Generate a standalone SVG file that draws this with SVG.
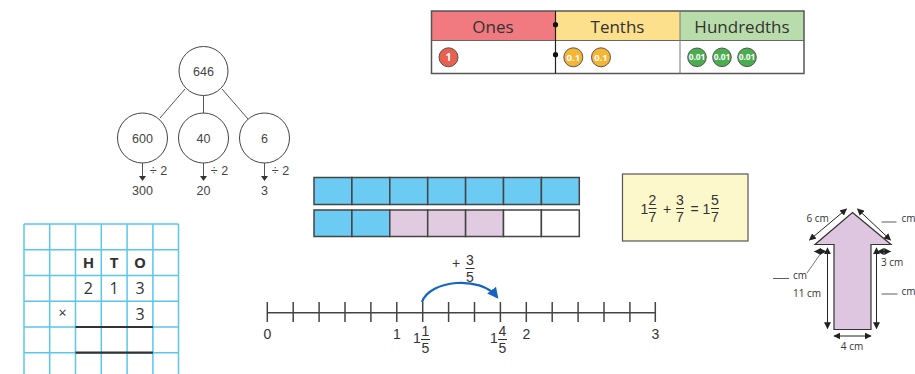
<svg xmlns="http://www.w3.org/2000/svg" width="915" height="374" viewBox="0 0 915 374">
<defs>
<style>
.os{font-family:"Open Sans","Liberation Sans",sans-serif;fill:#333}
.ls{font-family:"Liberation Sans",Arial,sans-serif;fill:#333}
.tree circle{fill:#fff;stroke:#444;stroke-width:1}
.tree text{font-family:"Liberation Sans",Arial,sans-serif;font-size:12.5px;fill:#444;text-anchor:middle}
.grid line{stroke:#5ac6ef;stroke-width:1.5}
.cell{stroke:#444;stroke-width:1.5}
.dim{stroke:#222;stroke-width:1;fill:none;marker-start:url(#ah);marker-end:url(#ah)}
.cnt{stroke:#555;stroke-width:1}
.ctext{font-family:"Open Sans","Liberation Sans",sans-serif;font-weight:bold;fill:#fff;text-anchor:middle}
</style>
<marker id="ah" viewBox="0 0 10 10" refX="9" refY="5" markerWidth="7" markerHeight="7" orient="auto-start-reverse" markerUnits="userSpaceOnUse">
<path d="M0,0 L10,5 L0,10 z" fill="#222"/>
</marker>
<marker id="blueah" viewBox="0 0 10 10" refX="8" refY="5" markerWidth="11" markerHeight="11" orient="auto" markerUnits="userSpaceOnUse">
<path d="M0,0 L10,5 L0,10 z" fill="#1565c0"/>
</marker>
</defs>

<!-- Place value chart -->
<g id="place-value-chart">
<rect x="431.5" y="11" width="124" height="29.5" fill="#f07a7f"/>
<rect x="555.5" y="11" width="124.5" height="29.5" fill="#fde08c"/>
<rect x="680" y="11" width="124" height="29.5" fill="#b9dcab"/>
<rect x="431.5" y="40.5" width="372.5" height="33" fill="#fff"/>
<rect x="431.5" y="11" width="372.5" height="62.5" fill="none" stroke="#555" stroke-width="1.5"/>
<line x1="431.5" y1="40.5" x2="804" y2="40.5" stroke="#666" stroke-width="1"/>
<line x1="680" y1="11" x2="680" y2="73.5" stroke="#777" stroke-width="1"/>
<line x1="555.5" y1="11" x2="555.5" y2="73.5" stroke="#222" stroke-width="1.2"/>
<circle cx="555.5" cy="24.7" r="2.6" fill="#111"/>
<circle cx="555.5" cy="54.7" r="2.6" fill="#111"/>
<text class="os" x="493" y="33" font-size="17" text-anchor="middle">Ones</text>
<text class="os" x="617.5" y="33" font-size="17" text-anchor="middle">Tenths</text>
<text class="os" x="742" y="33" font-size="17" text-anchor="middle">Hundredths</text>
<circle class="cnt" cx="448.5" cy="57.3" r="9.5" fill="#e9604f"/>
<text class="ctext" x="448.5" y="61" font-size="10.5">1</text>
<circle class="cnt" cx="573.3" cy="57.3" r="9.5" fill="#f6b532"/>
<text class="ctext" x="573.3" y="60.8" font-size="9.5">0.1</text>
<circle class="cnt" cx="601" cy="57.3" r="9.5" fill="#f6b532"/>
<text class="ctext" x="601" y="60.8" font-size="9.5">0.1</text>
<circle class="cnt" cx="697" cy="57.3" r="9.3" fill="#4aad4e"/>
<text class="ctext" x="697" y="60.3" font-size="8.3">0.01</text>
<circle class="cnt" cx="722" cy="57.3" r="9.3" fill="#4aad4e"/>
<text class="ctext" x="722" y="60.3" font-size="8.3">0.01</text>
<circle class="cnt" cx="747" cy="57.3" r="9.3" fill="#4aad4e"/>
<text class="ctext" x="747" y="60.3" font-size="8.3">0.01</text>
</g>

<!-- Part-whole tree -->
<g class="tree">
<g id="tree-connectors" stroke="#555" stroke-width="1">
<line x1="185" y1="89" x2="160" y2="118"/>
<line x1="203.5" y1="95.5" x2="203.5" y2="113"/>
<line x1="222" y1="89" x2="248" y2="119"/>
<line x1="142.5" y1="163" x2="142.5" y2="177"/>
<line x1="203.5" y1="163" x2="203.5" y2="177"/>
<line x1="264.5" y1="163" x2="264.5" y2="177"/>
</g>
<g id="tree-arrowheads" fill="#333">
<path d="M139,176 L146,176 L142.5,181 z"/>
<path d="M200,176 L207,176 L203.5,181 z"/>
<path d="M261,176 L268,176 L264.5,181 z"/>
</g>
<g id="node-646"><circle cx="203.5" cy="71" r="24.5"/><text x="203.5" y="75.5">646</text></g>
<g id="node-600"><circle cx="142.5" cy="138" r="25"/><text x="142.5" y="142.5">600</text></g>
<g id="node-40"><circle cx="203.5" cy="138" r="25"/><text x="203.5" y="142.5">40</text></g>
<g id="node-6"><circle cx="264.5" cy="138" r="25"/><text x="264.5" y="142.5">6</text></g>
<text x="158.5" y="174.5" font-size="11.5">÷ 2</text>
<text x="219.5" y="174.5" font-size="11.5">÷ 2</text>
<text x="280.5" y="174.5" font-size="11.5">÷ 2</text>
<text x="142.5" y="195">300</text>
<text x="203.5" y="195">20</text>
<text x="264.5" y="195">3</text>
</g>

<!-- HTO grid -->
<g id="hto-grid">
<g class="grid">
<line x1="24" y1="224" x2="24" y2="374"/>
<line x1="49.7" y1="224" x2="49.7" y2="374"/>
<line x1="75.5" y1="224" x2="75.5" y2="374"/>
<line x1="101.3" y1="224" x2="101.3" y2="374"/>
<line x1="127.1" y1="224" x2="127.1" y2="374"/>
<line x1="152.9" y1="224" x2="152.9" y2="374"/>
<line x1="178.5" y1="224" x2="178.5" y2="374"/>
<line x1="24" y1="224" x2="178.5" y2="224"/>
<line x1="24" y1="249.7" x2="178.5" y2="249.7"/>
<line x1="24" y1="275.4" x2="178.5" y2="275.4"/>
<line x1="24" y1="301.2" x2="178.5" y2="301.2"/>
<line x1="24" y1="327" x2="178.5" y2="327"/>
<line x1="24" y1="352.7" x2="178.5" y2="352.7"/>
</g>
<line x1="75.5" y1="327" x2="152.9" y2="327" stroke="#333" stroke-width="2.2"/>
<line x1="75.5" y1="352.7" x2="152.9" y2="352.7" stroke="#333" stroke-width="2.2"/>
<g class="os" text-anchor="middle">
<text x="88.4" y="268" font-size="15" font-weight="bold">H</text>
<text x="114.2" y="268" font-size="15" font-weight="bold">T</text>
<text x="140" y="268" font-size="15" font-weight="bold">O</text>
<text x="88.4" y="294" font-size="16">2</text>
<text x="114.2" y="294" font-size="16">1</text>
<text x="140" y="294" font-size="16">3</text>
<text x="62.6" y="318" font-size="14">×</text>
<text x="140" y="320" font-size="16">3</text>
</g>
</g>

<!-- Bar model -->
<g id="bar-model">
<g class="cell">
<rect x="314" y="177.5" width="37.9" height="27" fill="#6ccbf2"/>
<rect x="351.9" y="177.5" width="37.9" height="27" fill="#6ccbf2"/>
<rect x="389.8" y="177.5" width="37.9" height="27" fill="#6ccbf2"/>
<rect x="427.7" y="177.5" width="37.9" height="27" fill="#6ccbf2"/>
<rect x="465.6" y="177.5" width="37.9" height="27" fill="#6ccbf2"/>
<rect x="503.5" y="177.5" width="37.9" height="27" fill="#6ccbf2"/>
<rect x="541.4" y="177.5" width="37.9" height="27" fill="#6ccbf2"/>
<rect x="314" y="210" width="37.9" height="26.5" fill="#6ccbf2"/>
<rect x="351.9" y="210" width="37.9" height="26.5" fill="#6ccbf2"/>
<rect x="389.8" y="210" width="37.9" height="26.5" fill="#e0cbe0"/>
<rect x="427.7" y="210" width="37.9" height="26.5" fill="#e0cbe0"/>
<rect x="465.6" y="210" width="37.9" height="26.5" fill="#e0cbe0"/>
<rect x="503.5" y="210" width="37.9" height="26.5" fill="#fff"/>
<rect x="541.4" y="210" width="37.9" height="26.5" fill="#fff"/>
</g>
</g>

<!-- Fraction equation box -->
<g id="equation-box">
<rect x="622.5" y="174" width="125.5" height="67" fill="#fdf8cc" stroke="#555" stroke-width="1.2"/>
<g class="ls" font-size="14" text-anchor="middle">
<text x="644.5" y="213.5">1</text>
<text x="652.5" y="205">2</text>
<line x1="648.5" y1="208.5" x2="656.5" y2="208.5" stroke="#333" stroke-width="1"/>
<text x="652.5" y="222">7</text>
<text x="667" y="213.5">+</text>
<text x="680" y="205">3</text>
<line x1="676" y1="208.5" x2="684" y2="208.5" stroke="#333" stroke-width="1"/>
<text x="680" y="222">7</text>
<text x="694.5" y="213.5">=</text>
<text x="706.5" y="213.5">1</text>
<text x="715" y="205">5</text>
<line x1="711" y1="208.5" x2="719" y2="208.5" stroke="#333" stroke-width="1"/>
<text x="715" y="222">7</text>
</g>
</g>

<!-- Number line -->
<g id="number-line">
<g stroke="#444" stroke-width="1.5">
<line x1="267" y1="312.7" x2="656" y2="312.7"/>
<line x1="267.3" y1="302" x2="267.3" y2="322"/>
<line x1="293.2" y1="302" x2="293.2" y2="322"/>
<line x1="319.1" y1="302" x2="319.1" y2="322"/>
<line x1="345" y1="302" x2="345" y2="322"/>
<line x1="370.9" y1="302" x2="370.9" y2="322"/>
<line x1="396.8" y1="302" x2="396.8" y2="322"/>
<line x1="422.7" y1="302" x2="422.7" y2="322"/>
<line x1="448.6" y1="302" x2="448.6" y2="322"/>
<line x1="474.5" y1="302" x2="474.5" y2="322"/>
<line x1="500.4" y1="302" x2="500.4" y2="322"/>
<line x1="526.3" y1="302" x2="526.3" y2="322"/>
<line x1="552.2" y1="302" x2="552.2" y2="322"/>
<line x1="578.1" y1="302" x2="578.1" y2="322"/>
<line x1="604" y1="302" x2="604" y2="322"/>
<line x1="629.9" y1="302" x2="629.9" y2="322"/>
<line x1="655.3" y1="302" x2="655.3" y2="322"/>
</g>
<g class="ls" font-size="14" text-anchor="middle">
<text x="267.3" y="338.5">0</text>
<text x="396.8" y="338.5">1</text>
<text x="526.3" y="338.5">2</text>
<text x="655.3" y="338.5">3</text>
<text x="417" y="342.5">1</text>
<text x="425.5" y="335.5">1</text>
<line x1="421" y1="339.5" x2="430" y2="339.5" stroke="#333" stroke-width="1"/>
<text x="425.5" y="352.5">5</text>
<text x="494" y="342.5">1</text>
<text x="502.5" y="335.5">4</text>
<line x1="498" y1="339.5" x2="507" y2="339.5" stroke="#333" stroke-width="1"/>
<text x="502.5" y="352.5">5</text>
<text x="456" y="268">+</text>
<text x="470" y="265">3</text>
<line x1="465.5" y1="268.5" x2="474.5" y2="268.5" stroke="#333" stroke-width="1"/>
<text x="470" y="281.5">5</text>
</g>
<path d="M422,302 C430,280 480,275 497,297" fill="none" stroke="#1565c0" stroke-width="2.2" marker-end="url(#blueah)"/>
</g>

<!-- Arrow shape with dimensions -->
<g id="arrow-shape">
<path d="M852.5,212.5 L891,244.5 L871,244.5 L871,329.5 L834,329.5 L834,244.5 L815,244.5 Z" fill="#dfc6e0" stroke="#333" stroke-width="1.2"/>
<g id="dimension-lines">
<line class="dim" x1="809.5" y1="240" x2="846.5" y2="209"/>
<line class="dim" x1="857.5" y1="209" x2="890.5" y2="240"/>
<line class="dim" x1="814.5" y1="251.5" x2="826" y2="251.5"/>
<line class="dim" x1="877.5" y1="251.5" x2="890.5" y2="251.5"/>
<line class="dim" x1="827.5" y1="248" x2="827.5" y2="328.5"/>
<line class="dim" x1="876.5" y1="248" x2="876.5" y2="328.5"/>
<line class="dim" x1="834" y1="336" x2="871" y2="336"/>
<line x1="807" y1="273" x2="820" y2="254.5" stroke="#555" stroke-width="0.8"/>
<line x1="881.5" y1="222" x2="896.5" y2="222" stroke="#333" stroke-width="0.8"/>
<line x1="773" y1="278.5" x2="789" y2="278.5" stroke="#333" stroke-width="0.8"/>
<line x1="881.5" y1="294" x2="897.5" y2="294" stroke="#333" stroke-width="0.8"/>
</g>
<g class="os" font-size="10">
<text x="806.5" y="221.5">6 cm</text>
<text x="901.5" y="222">cm</text>
<text x="881" y="266">3 cm</text>
<text x="793" y="279">cm</text>
<text x="793" y="297">11 cm</text>
<text x="901.5" y="294.5">cm</text>
<text x="852" y="350" text-anchor="middle">4 cm</text>
</g>
</g>
</svg>
